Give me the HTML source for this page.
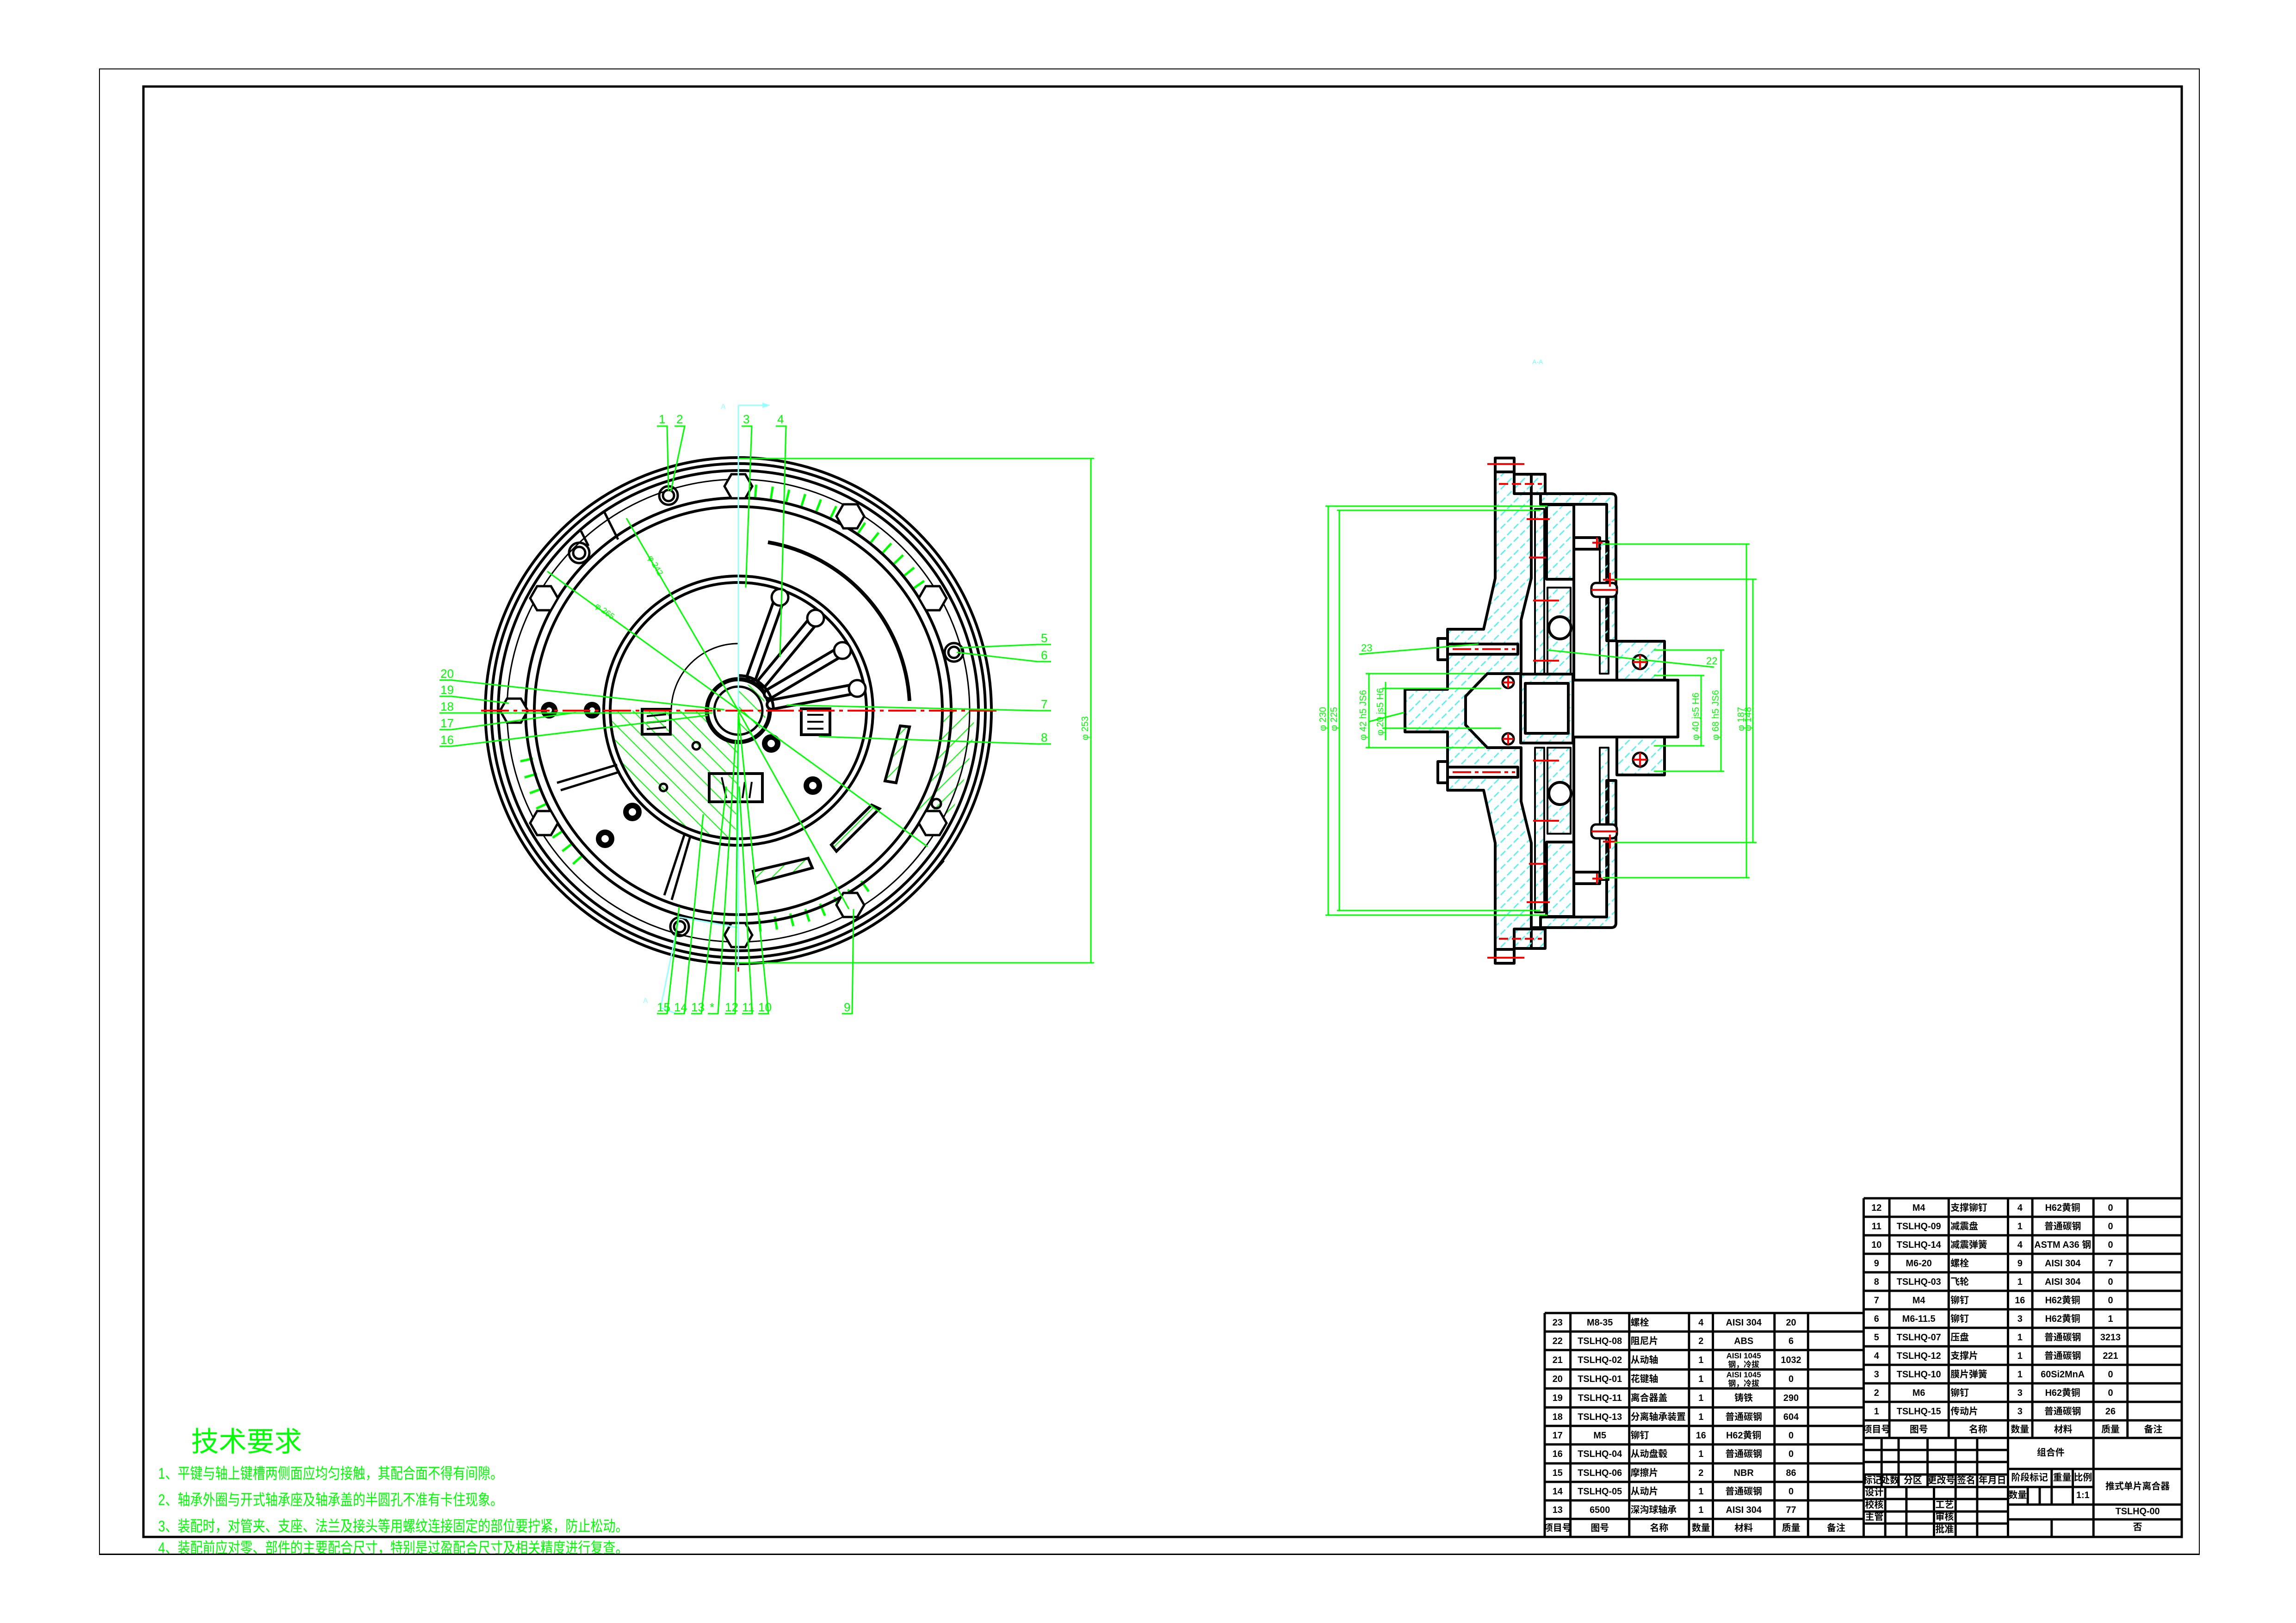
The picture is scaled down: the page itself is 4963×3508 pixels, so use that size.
<!DOCTYPE html>
<html><head><meta charset="utf-8"><style>
html,body{margin:0;padding:0;background:#fff}
svg{display:block}
.t{font-family:"Liberation Sans","Noto Sans CJK SC",sans-serif;font-weight:bold;font-size:20px;fill:#000}
.g{font-family:"Liberation Sans","Noto Sans CJK SC",sans-serif;fill:#00ff00}
</style></head><body>
<svg width="4963" height="3508" viewBox="0 0 4963 3508" xmlns="http://www.w3.org/2000/svg">
<defs>
<pattern id="hg" patternUnits="userSpaceOnUse" width="24" height="24" patternTransform="rotate(-45)"><line x1="0" y1="0" x2="0" y2="24" stroke="#00ff00" stroke-width="4"/></pattern>
<pattern id="hg2" patternUnits="userSpaceOnUse" width="24" height="24" patternTransform="rotate(45)"><line x1="0" y1="0" x2="0" y2="24" stroke="#00ff00" stroke-width="4"/></pattern>
<pattern id="hc" patternUnits="userSpaceOnUse" width="20" height="20" patternTransform="rotate(45)"><line x1="0" y1="0" x2="0" y2="14" stroke="#66eeee" stroke-width="6"/></pattern>
</defs>
<rect width="4963" height="3508" fill="#fff"/>
<!-- frames -->
<rect x="215" y="149" width="4539" height="3211" fill="none" stroke="#000" stroke-width="2"/>
<rect x="310" y="187" width="4406" height="3135" fill="none" stroke="#000" stroke-width="5"/>

<!-- ===== LEFT VIEW ===== -->
<g fill="none" stroke="#000">
<path d="M1319,1536 A277,277 0 0 0 1590,1813 L1596,1600 A64,64 0 0 1 1532,1536 Z" fill="url(#hg)" stroke="none"/>
<path d="M1596,1476 A60,60 0 0 1 1656,1536 A60,60 0 0 1 1596,1596 Z" fill="url(#hg)" stroke="none"/>
<path d="M2038,1536 L2106,1536 A510,510 0 0 1 2038,1791 L1979,1757 A442,442 0 0 0 2038,1536 Z" fill="url(#hg2)" stroke="none"/>
<path d="M1596,1060 A476,476 0 0 1 2020,1320" stroke="#00ff00" stroke-width="28" stroke-dasharray="5 30"/>
<path d="M1138,1640 A470,470 0 0 0 1260,1870" stroke="#00ff00" stroke-width="28" stroke-dasharray="5 30"/>
<path d="M1640,2000 A466,466 0 0 0 1890,1900" stroke="#00ff00" stroke-width="28" stroke-dasharray="5 30"/>
<circle cx="1596" cy="1536" r="547" stroke-width="6"/>
<circle cx="1596" cy="1536" r="534" stroke-width="6"/>
<circle cx="1596" cy="1536" r="519" stroke-width="6"/>
<circle cx="1596" cy="1536" r="500" stroke-width="3"/>
<circle cx="1596" cy="1536" r="460" stroke-width="6"/>
<circle cx="1596" cy="1536" r="441" stroke-width="6"/>
<circle cx="1596" cy="1536" r="291" stroke-width="6"/>
<circle cx="1596" cy="1536" r="277" stroke-width="6"/>
<path d="M1596,1391 A145,145 0 0 0 1451,1536" stroke-width="3"/>
<circle cx="1596" cy="1536" r="68" stroke-width="9"/>
<circle cx="1596" cy="1536" r="52" stroke-width="5"/>
<path d="M1660,1172 A370,370 0 0 1 1966,1515" stroke-width="8"/>
<g stroke-linecap="round">
<path d="M1625,1462 L1686,1291 M1648,1475 L1763,1336 M1662,1500 L1821,1406 M1668,1523 L1853,1488" stroke="#000" stroke-width="26"/>
<path d="M1625,1462 L1686,1291 M1648,1475 L1763,1336 M1662,1500 L1821,1406 M1668,1523 L1853,1488" stroke="#fff" stroke-width="14"/>
</g>
<g fill="#fff" stroke-width="5">
<circle cx="1686" cy="1291" r="18"/><circle cx="1763" cy="1336" r="18"/><circle cx="1821" cy="1406" r="18"/><circle cx="1853" cy="1488" r="18"/>
</g>
<path d="M1596,1460 A76,76 0 0 1 1672,1536" stroke-width="6"/>
<g stroke-width="5" fill="#fff">
<polygon points="1626,1051 1611,1077 1581,1077 1566,1051 1581,1025 1611,1025"/>
<polygon points="1868,1116 1853,1142 1823,1142 1808,1116 1823,1090 1853,1090"/>
<polygon points="2046,1293 2031,1319 2001,1319 1986,1293 2001,1267 2031,1267"/>
<polygon points="1206,1293 1191,1319 1161,1319 1146,1293 1161,1267 1191,1267"/>
<polygon points="1141,1536 1126,1562 1096,1562 1081,1536 1096,1510 1126,1510"/>
<polygon points="1206,1779 1191,1805 1161,1805 1146,1779 1161,1753 1191,1753"/>
<polygon points="2046,1779 2031,1805 2001,1805 1986,1779 2001,1753 2031,1753"/>
<polygon points="1868,1956 1853,1982 1823,1982 1808,1956 1823,1930 1853,1930"/>
<polygon points="1626,2021 1611,2047 1581,2047 1566,2021 1581,1995 1611,1995"/>
</g>
<g stroke-width="5">
<circle cx="1445" cy="1071" r="20"/><circle cx="1445" cy="1071" r="12"/>
<circle cx="1252" cy="1195" r="22"/><circle cx="1252" cy="1195" r="13"/>
<circle cx="2062" cy="1410" r="20"/><circle cx="2062" cy="1410" r="12"/>
<circle cx="1469" cy="2003" r="20"/><circle cx="1469" cy="2003" r="12"/>
<circle cx="2024" cy="1737" r="10"/>
<circle cx="1505" cy="1612" r="8"/><circle cx="1434" cy="1702" r="8"/>
</g>
<g stroke-width="12">
<circle cx="1667" cy="1607" r="14"/><circle cx="1757" cy="1698" r="14"/><circle cx="1367" cy="1755" r="14"/><circle cx="1308" cy="1813" r="14"/><circle cx="1187" cy="1535" r="12"/><circle cx="1280" cy="1535" r="12"/>
</g>
<g stroke-width="6">
<rect x="1388" y="1533" width="61" height="54"/>
<rect x="1732" y="1532" width="62" height="56"/>
<rect x="1533" y="1672" width="115" height="61"/>
</g>
<g stroke-width="4">
<line x1="1398" y1="1548" x2="1440" y2="1544"/><line x1="1398" y1="1562" x2="1440" y2="1558"/><line x1="1398" y1="1576" x2="1440" y2="1572"/>
<line x1="1745" y1="1545" x2="1780" y2="1545"/><line x1="1745" y1="1560" x2="1780" y2="1560"/><line x1="1745" y1="1575" x2="1780" y2="1575"/>
<line x1="1560" y1="1680" x2="1570" y2="1725"/><line x1="1610" y1="1690" x2="1605" y2="1725"/><line x1="1625" y1="1690" x2="1620" y2="1725"/>
</g>
<g stroke-width="6" fill="url(#hg2)">
<polygon points="1946,1569 1966,1571 1937,1692 1913,1688"/>
<polygon points="1884,1740 1901,1748 1808,1840 1797,1826"/>
<polygon points="1628,1883 1747,1855 1756,1876 1633,1909"/>
</g>
<g stroke-width="5">
<path d="M1204,1692 L1334,1653 M1212,1708 L1340,1668"/>
<path d="M1479,1805 L1436,1935 M1492,1808 L1452,1945"/>
<path d="M1307,1108 L1336,1166 M1256,1148 L1272,1180"/>
<path d="M2005,1900 L2040,1860"/>
</g>
</g>
<line x1="1040" y1="1536" x2="2154" y2="1536" stroke="#ff0000" stroke-width="4" stroke-dasharray="60 10 8 10"/>
<line x1="1596" y1="2000" x2="1596" y2="2100" stroke="#ff0000" stroke-width="3"/>
<line x1="1596" y1="876" x2="1596" y2="2090" stroke="#9ff" stroke-width="3"/>
<line x1="1596" y1="876" x2="1648" y2="876" stroke="#9ff" stroke-width="3"/>
<polygon points="1648,870 1665,876 1648,882" fill="#9ff"/>
<text x="1558" y="884" class="g" style="fill:#9ff;font-size:16px">A</text>
<polyline points="1596,2005 1468,1982 1428,2178 1460,2190" fill="none" stroke="#9ff" stroke-width="3"/>
<text x="1390" y="2168" class="g" style="fill:#9ff;font-size:16px">A</text>
<g stroke="#00ff00" stroke-width="3" fill="none">
<line x1="1596" y1="991" x2="2365" y2="991"/><line x1="1596" y1="2081" x2="2365" y2="2081"/>
<line x1="2358" y1="991" x2="2358" y2="2081"/>
<line x1="1354" y1="1120" x2="1596" y2="1536"/>
<line x1="1183" y1="1235" x2="2005" y2="1830"/>
<line x1="1596" y1="1536" x2="1835" y2="1965"/>
<polyline points="1420,921 1442,921 1445,1060"/>
<polyline points="1458,921 1480,921 1450,1062"/>
<polyline points="1603,921 1625,921 1612,1270"/>
<polyline points="1677,921 1699,921 1686,1420"/>
<polyline points="2272,1393 2243,1393 2075,1400"/>
<polyline points="2272,1430 2243,1430 2068,1410"/>
<polyline points="2272,1536 2243,1536 1700,1524"/>
<polyline points="2272,1608 2243,1608 1770,1592"/>
<polyline points="950,1470 976,1470 1566,1534"/>
<polyline points="950,1505 976,1505 1100,1520"/>
<polyline points="950,1541 976,1541 1540,1541"/>
<polyline points="950,1577 976,1577 1245,1540"/>
<polyline points="950,1613 976,1613 1530,1546"/>
<polyline points="1420,2191 1442,2191 1468,1960"/>
<polyline points="1457,2191 1479,2191 1520,1760"/>
<polyline points="1494,2191 1516,2191 1570,1700"/>
<polyline points="1530,2191 1552,2191 1590,1600"/>
<polyline points="1567,2191 1589,2191 1596,1540"/>
<polyline points="1604,2191 1626,2191 1598,1700"/>
<polyline points="1639,2191 1661,2191 1596,1540"/>
<polyline points="1820,2191 1842,2191 1845,1965"/>
</g>
<g class="g" font-size="26">
<text x="1424" y="915">1</text><text x="1462" y="915">2</text><text x="1606" y="915">3</text><text x="1680" y="915">4</text>
<text x="2250" y="1388">5</text><text x="2250" y="1425">6</text><text x="2250" y="1531">7</text><text x="2250" y="1603">8</text>
<text x="952" y="1465">20</text><text x="952" y="1500">19</text><text x="952" y="1536">18</text><text x="952" y="1572">17</text><text x="952" y="1608">16</text>
<text x="1420" y="2186">15</text><text x="1457" y="2186">14</text><text x="1494" y="2186">13</text><text x="1534" y="2186">*</text><text x="1567" y="2186">12</text><text x="1604" y="2186">11</text><text x="1639" y="2186">10</text><text x="1824" y="2186">9</text>
</g>
<text class="g" font-size="20" transform="translate(2352,1600) rotate(-90)">φ 253</text>
<text class="g" font-size="18" transform="translate(1400,1205) rotate(60)">φ 242</text>
<text class="g" font-size="18" transform="translate(1285,1312) rotate(36)">φ 265</text>

<!-- ===== RIGHT VIEW ===== -->
<text x="3312" y="787" class="g" style="fill:#7ff;font-size:14px">A-A</text>
<g stroke="#000" stroke-width="6" stroke-linejoin="round">
<path d="M3232,990 L3273,990 L3273,1025 L3310,1025 L3310,1250 L3288,1340 L3288,1456 L3215,1456 L3168,1505 L3168,1567 L3215,1616 L3288,1616 L3288,1732 L3310,1822 L3310,2050 L3273,2050 L3273,2082 L3232,2082 L3232,1822 L3207,1708 L3129,1708 L3129,1582 L3037,1582 L3037,1490 L3129,1490 L3129,1360 L3207,1360 L3232,1250 Z" fill="url(#hc)"/>
<rect x="3273" y="1025" width="67" height="42" fill="url(#hc)"/>
<rect x="3273" y="2008" width="67" height="42" fill="url(#hc)"/>
<rect x="3232" y="990" width="41" height="30" fill="#fff"/>
<rect x="3232" y="2052" width="41" height="30" fill="#fff"/>
<path d="M3310,1067 L3483,1067 Q3493,1067 3493,1077 L3493,1385 L3473,1385 L3473,1090 L3330,1090 L3330,1067" fill="url(#hc)"/>
<path d="M3310,2005 L3483,2005 Q3493,2005 3493,1995 L3493,1687 L3473,1687 L3473,1982 L3330,1982 L3330,2005" fill="url(#hc)"/>
<rect x="3343" y="1091" width="59" height="161" fill="url(#hc)"/>
<rect x="3343" y="1820" width="59" height="161" fill="url(#hc)"/>
<rect x="3318" y="1100" width="20" height="356" fill="url(#hc)" stroke-width="4"/>
<rect x="3318" y="1616" width="20" height="356" fill="url(#hc)" stroke-width="4"/>
<rect x="3345" y="1270" width="50" height="186" fill="url(#hc)" stroke-width="4"/>
<rect x="3345" y="1616" width="50" height="186" fill="url(#hc)" stroke-width="4"/>
<circle cx="3372" cy="1357" r="24" fill="#fff"/>
<circle cx="3372" cy="1715" r="24" fill="#fff"/>
<line x1="3402" y1="1091" x2="3402" y2="1981"/>
<rect x="3287" y="1457" width="113" height="149" fill="url(#hc)"/>
<rect x="3297" y="1477" width="93" height="108" fill="#fff"/>
<rect x="3400" y="1470" width="227" height="123" fill="#fff"/>
<rect x="3402" y="1162" width="56" height="25" fill="#fff"/>
<rect x="3402" y="1885" width="56" height="25" fill="#fff"/>
<rect x="3458" y="1170" width="19" height="286" fill="url(#hc)" stroke-width="4"/>
<rect x="3458" y="1616" width="19" height="286" fill="url(#hc)" stroke-width="4"/>
<rect x="3440" y="1260" width="55" height="30" rx="10" fill="#fff" stroke-width="5"/>
<rect x="3440" y="1782" width="55" height="30" rx="10" fill="#fff" stroke-width="5"/>
<rect x="3495" y="1386" width="103" height="84" fill="url(#hc)"/>
<rect x="3495" y="1593" width="103" height="82" fill="url(#hc)"/>
<circle cx="3545" cy="1431" r="15" fill="#fff" stroke-width="5"/>
<circle cx="3545" cy="1642" r="15" fill="#fff" stroke-width="5"/>
<circle cx="3260" cy="1475" r="12" fill="#fff" stroke-width="5"/>
<circle cx="3260" cy="1597" r="12" fill="#fff" stroke-width="5"/>
<rect x="3108" y="1380" width="21" height="46" fill="#fff"/>
<rect x="3129" y="1392" width="152" height="22" fill="#fff"/>
<rect x="3108" y="1646" width="21" height="46" fill="#fff"/>
<rect x="3129" y="1658" width="152" height="22" fill="#fff"/>
</g>
<g stroke="#ff0000" stroke-width="4">
<line x1="3215" y1="1003" x2="3295" y2="1003"/><line x1="3215" y1="2070" x2="3295" y2="2070"/>
<line x1="3240" y1="1046" x2="3333" y2="1046" stroke-dasharray="20 8"/><line x1="3240" y1="2029" x2="3333" y2="2029" stroke-dasharray="20 8"/>
<line x1="3140" y1="1403" x2="3275" y2="1403" stroke-dasharray="40 8 8 8"/><line x1="3140" y1="1669" x2="3275" y2="1669" stroke-dasharray="40 8 8 8"/>
<line x1="3300" y1="1122" x2="3350" y2="1122"/><line x1="3305" y1="1205" x2="3342" y2="1205"/>
<line x1="3300" y1="1950" x2="3350" y2="1950"/><line x1="3305" y1="1867" x2="3342" y2="1867"/>
<line x1="3314" y1="1298" x2="3370" y2="1298"/><line x1="3314" y1="1428" x2="3370" y2="1428"/>
<line x1="3314" y1="1644" x2="3370" y2="1644"/><line x1="3314" y1="1774" x2="3370" y2="1774"/>
<path d="M3442,1173 h22 M3452,1162 v22 M3465,1253 h30 M3480,1238 v30 M3442,1899 h22 M3452,1888 v22 M3465,1819 h30 M3480,1804 v30"/>
<path d="M3530,1431 h30 M3545,1416 v30 M3530,1642 h30 M3545,1627 v30 M3248,1475 h24 M3260,1463 v24 M3248,1597 h24 M3260,1585 v24"/>
<line x1="3440" y1="1275" x2="3495" y2="1275"/><line x1="3440" y1="1797" x2="3495" y2="1797"/>
</g>
<g stroke="#00ff00" stroke-width="3" fill="none">
<path d="M2865,1094 H3345 M2890,1103 H3330 M2865,1978 H3345 M2890,1968 H3330"/>
<path d="M2871,1094 V1978 M2895,1103 V1968"/>
<path d="M3465,1176 H3782 M3465,1897 H3782 M3490,1252 H3797 M3490,1821 H3797"/>
<path d="M3775,1176 V1897 M3789,1252 V1821"/>
<path d="M3575,1405 H3727 M3575,1667 H3727 M3720,1405 V1667"/>
<path d="M3575,1460 H3684 M3575,1612 H3684 M3677,1460 V1612"/>
<path d="M2952,1456 H3210 M2952,1616 H3210 M2959,1456 V1616"/>
<path d="M2988,1488 H3245 M2988,1574 H3245 M2995,1474 V1600"/>
<path d="M2938,1414 L3196,1392"/>
<path d="M3705,1442 L3345,1405"/>
<path d="M2958,1560 L3035,1540"/>
</g>
<g class="g" font-size="22">
<text x="2942" y="1408">23</text><text x="3688" y="1436">22</text>
</g>
<g class="g" font-size="20">
<text transform="translate(2866,1580) rotate(-90)">φ 230</text>
<text transform="translate(2890,1580) rotate(-90)">φ 225</text>
<text transform="translate(3770,1580) rotate(-90)">φ 187</text>
<text transform="translate(3785,1580) rotate(-90)">φ 148</text>
<text transform="translate(3715,1600) rotate(-90)">φ 68  h5  JS6</text>
<text transform="translate(3672,1600) rotate(-90)">φ 40  js5  H6</text>
<text transform="translate(2953,1600) rotate(-90)">φ 42 h5 JS6</text>
<text transform="translate(2990,1590) rotate(-90)">φ 20 js5 H6</text>
</g>

<!-- ===== TECH REQUIREMENTS ===== -->
<g class="g">
<text x="413" y="3137" font-size="60">技术要求</text>
<g font-size="33" transform="scale(0.82,1)">
<text x="417" y="3196">1、平键与轴上键槽两侧面应均匀接触，其配合面不得有间隙。</text>
<text x="417" y="3253">2、轴承外圈与开式轴承座及轴承盖的半圆孔不准有卡住现象。</text>
<text x="417" y="3310">3、装配时，对管夹、支座、法兰及接头等用螺纹连接固定的部位要拧紧，防止松动。</text>
</g>
</g>
<svg x="0" y="3322" width="4963" height="38" overflow="hidden"><text class="g" font-size="33" transform="scale(0.82,1)" x="417" y="35">4、装配前应对零、部件的主要配合尺寸，特别是过盈配合尺寸及相关精度进行复查。</text></svg>
<rect x="215" y="3358" width="4539" height="2" fill="#000"/>

<!-- ===== TABLES ===== -->
<g transform="matrix(0.9935 0 0 1 19.7 0)">
<g stroke="#000" stroke-width="5" fill="none">
<path d="M4035,2590 H4727 M4035,2630 H4727 M4035,2670 H4727 M4035,2710 H4727 M4035,2750 H4727 M4035,2790 H4727 M4035,2830 H4727 M4035,2870 H4727 M4035,2910 H4727 M4035,2950 H4727 M4035,2990 H4727 M4035,3030 H4727 M4035,3070 H4727 M4035,3108 H4727"/>
<path d="M4035,2590 V3320 M4091,2590 V3108 M4220,2590 V3108 M4349,2590 V3320 M4402,2590 V3108 M4535,2590 V3320 M4609,2590 V3108"/>
<path d="M3341,2838 H4035 M3341,2878 H4035 M3341,2918 H4035 M3341,2960 H4035 M3341,3001 H4035 M3341,3042 H4035 M3341,3082 H4035 M3341,3122 H4035 M3341,3163 H4035 M3341,3203 H4035 M3341,3243 H4035 M3341,3283 H4035"/>
<path d="M3341,2838 V3320 M3397,2838 V3320 M3525,2838 V3320 M3655,2838 V3320 M3707,2838 V3320 M3841,2838 V3320 M3914,2838 V3320"/>
<path d="M4035,3134 H4349 M4035,3160 H4349 M4035,3187 H4349 M4035,3214 H4349 M4035,3240 H4349 M4035,3267 H4349 M4035,3293 H4349"/>
<path d="M4074,3108 V3214 M4111,3108 V3214 M4174,3108 V3214 M4235,3108 V3214 M4282,3108 V3214"/>
<path d="M4082,3214 V3320 M4128,3214 V3320 M4188,3214 V3320 M4235,3214 V3320 M4282,3214 V3320"/>
<path d="M4349,3175 H4727 M4349,3214 H4535 M4349,3252 H4727 M4349,3284 H4727"/>
<path d="M4444,3175 V3252 M4490,3175 V3252 M4392,3214 V3252 M4418,3214 V3252 M4444,3284 V3320"/>
</g>
<g class="t" text-anchor="middle">
<text x="4063" y="2617">12</text><text x="4155" y="2617">M4</text><text x="4375" y="2617">4</text><text x="4468" y="2617">H62黄铜</text><text x="4572" y="2617">0</text>
<text x="4063" y="2657">11</text><text x="4155" y="2657">TSLHQ-09</text><text x="4375" y="2657">1</text><text x="4468" y="2657">普通碳钢</text><text x="4572" y="2657">0</text>
<text x="4063" y="2697">10</text><text x="4155" y="2697">TSLHQ-14</text><text x="4375" y="2697">4</text><text x="4468" y="2697">ASTM A36 钢</text><text x="4572" y="2697">0</text>
<text x="4063" y="2737">9</text><text x="4155" y="2737">M6-20</text><text x="4375" y="2737">9</text><text x="4468" y="2737">AISI 304</text><text x="4572" y="2737">7</text>
<text x="4063" y="2777">8</text><text x="4155" y="2777">TSLHQ-03</text><text x="4375" y="2777">1</text><text x="4468" y="2777">AISI 304</text><text x="4572" y="2777">0</text>
<text x="4063" y="2817">7</text><text x="4155" y="2817">M4</text><text x="4375" y="2817">16</text><text x="4468" y="2817">H62黄铜</text><text x="4572" y="2817">0</text>
<text x="4063" y="2857">6</text><text x="4155" y="2857">M6-11.5</text><text x="4375" y="2857">3</text><text x="4468" y="2857">H62黄铜</text><text x="4572" y="2857">1</text>
<text x="4063" y="2897">5</text><text x="4155" y="2897">TSLHQ-07</text><text x="4375" y="2897">1</text><text x="4468" y="2897">普通碳钢</text><text x="4572" y="2897">3213</text>
<text x="4063" y="2937">4</text><text x="4155" y="2937">TSLHQ-12</text><text x="4375" y="2937">1</text><text x="4468" y="2937">普通碳钢</text><text x="4572" y="2937">221</text>
<text x="4063" y="2977">3</text><text x="4155" y="2977">TSLHQ-10</text><text x="4375" y="2977">1</text><text x="4468" y="2977">60Si2MnA</text><text x="4572" y="2977">0</text>
<text x="4063" y="3017">2</text><text x="4155" y="3017">M6</text><text x="4375" y="3017">3</text><text x="4468" y="3017">H62黄铜</text><text x="4572" y="3017">0</text>
<text x="4063" y="3057">1</text><text x="4155" y="3057">TSLHQ-15</text><text x="4375" y="3057">3</text><text x="4468" y="3057">普通碳钢</text><text x="4572" y="3057">26</text>
<text x="4063" y="3096">项目号</text><text x="4155" y="3096">图号</text><text x="4284" y="3096">名称</text><text x="4375" y="3096">数量</text><text x="4469" y="3096">材料</text><text x="4572" y="3096">质量</text><text x="4665" y="3096">备注</text>
<text x="3369" y="2865">23</text><text x="3461" y="2865">M8-35</text><text x="3681" y="2865">4</text><text x="3774" y="2865">AISI 304</text><text x="3877" y="2865">20</text>
<text x="3369" y="2905">22</text><text x="3461" y="2905">TSLHQ-08</text><text x="3681" y="2905">2</text><text x="3774" y="2905">ABS</text><text x="3877" y="2905">6</text>
<text x="3369" y="2946">21</text><text x="3461" y="2946">TSLHQ-02</text><text x="3681" y="2946">1</text><text x="3774" y="2936" font-size="17">AISI 1045</text><text x="3774" y="2955" font-size="17">钢，冷拔</text><text x="3877" y="2946">1032</text>
<text x="3369" y="2987">20</text><text x="3461" y="2987">TSLHQ-01</text><text x="3681" y="2987">1</text><text x="3774" y="2977" font-size="17">AISI 1045</text><text x="3774" y="2996" font-size="17">钢，冷拔</text><text x="3877" y="2987">0</text>
<text x="3369" y="3028">19</text><text x="3461" y="3028">TSLHQ-11</text><text x="3681" y="3028">1</text><text x="3774" y="3028">铸铁</text><text x="3877" y="3028">290</text>
<text x="3369" y="3069">18</text><text x="3461" y="3069">TSLHQ-13</text><text x="3681" y="3069">1</text><text x="3774" y="3069">普通碳钢</text><text x="3877" y="3069">604</text>
<text x="3369" y="3109">17</text><text x="3461" y="3109">M5</text><text x="3681" y="3109">16</text><text x="3774" y="3109">H62黄铜</text><text x="3877" y="3109">0</text>
<text x="3369" y="3149">16</text><text x="3461" y="3149">TSLHQ-04</text><text x="3681" y="3149">1</text><text x="3774" y="3149">普通碳钢</text><text x="3877" y="3149">0</text>
<text x="3369" y="3190">15</text><text x="3461" y="3190">TSLHQ-06</text><text x="3681" y="3190">2</text><text x="3774" y="3190">NBR</text><text x="3877" y="3190">86</text>
<text x="3369" y="3230">14</text><text x="3461" y="3230">TSLHQ-05</text><text x="3681" y="3230">1</text><text x="3774" y="3230">普通碳钢</text><text x="3877" y="3230">0</text>
<text x="3369" y="3270">13</text><text x="3461" y="3270">6500</text><text x="3681" y="3270">1</text><text x="3774" y="3270">AISI 304</text><text x="3877" y="3270">77</text>
<text x="3369" y="3309">项目号</text><text x="3461" y="3309">图号</text><text x="3590" y="3309">名称</text><text x="3681" y="3309">数量</text><text x="3774" y="3309">材料</text><text x="3877" y="3309">质量</text><text x="3975" y="3309">备注</text>
</g>
<g class="t" font-size="18">
<text x="4224" y="2617">支撑铆钉</text><text x="4224" y="2657">减震盘</text><text x="4224" y="2697">减震弹簧</text><text x="4224" y="2737">螺栓</text><text x="4224" y="2777">飞轮</text><text x="4224" y="2817">铆钉</text><text x="4224" y="2857">铆钉</text><text x="4224" y="2897">压盘</text><text x="4224" y="2937">支撑片</text><text x="4224" y="2977">膜片弹簧</text><text x="4224" y="3017">铆钉</text><text x="4224" y="3057">传动片</text>
<text x="3528" y="2865">螺栓</text><text x="3528" y="2905">阻尼片</text><text x="3528" y="2946">从动轴</text><text x="3528" y="2987">花键轴</text><text x="3528" y="3028">离合器盖</text><text x="3528" y="3069">分离轴承装置</text><text x="3528" y="3109">铆钉</text><text x="3528" y="3149">从动盘毂</text><text x="3528" y="3190">摩擦片</text><text x="3528" y="3230">从动片</text><text x="3528" y="3270">深沟球轴承</text>
</g>
<g class="t" font-size="14" text-anchor="middle">
<text x="4054" y="3206">标记</text><text x="4092" y="3206">处数</text><text x="4142" y="3206">分区</text><text x="4204" y="3206">更改号</text><text x="4258" y="3206">签名</text><text x="4315" y="3206">年月日</text>
<text x="4058" y="3232">设计</text><text x="4058" y="3259">校核</text><text x="4211" y="3259">工艺</text><text x="4058" y="3285">主管</text><text x="4211" y="3285">审核</text><text x="4211" y="3312">批准</text>
<text x="4396" y="3200">阶段标记</text><text x="4467" y="3200">重量</text><text x="4512" y="3200">比例</text>
<text x="4370" y="3238">数量</text><text x="4512" y="3238">1:1</text>
<text x="4442" y="3146">组合件</text>
<text x="4631" y="3219">推式单片离合器</text>
<text x="4631" y="3273">TSLHQ-00</text>
<text x="4631" y="3307">否</text>
</g>
</g>
</svg>
</body></html>
